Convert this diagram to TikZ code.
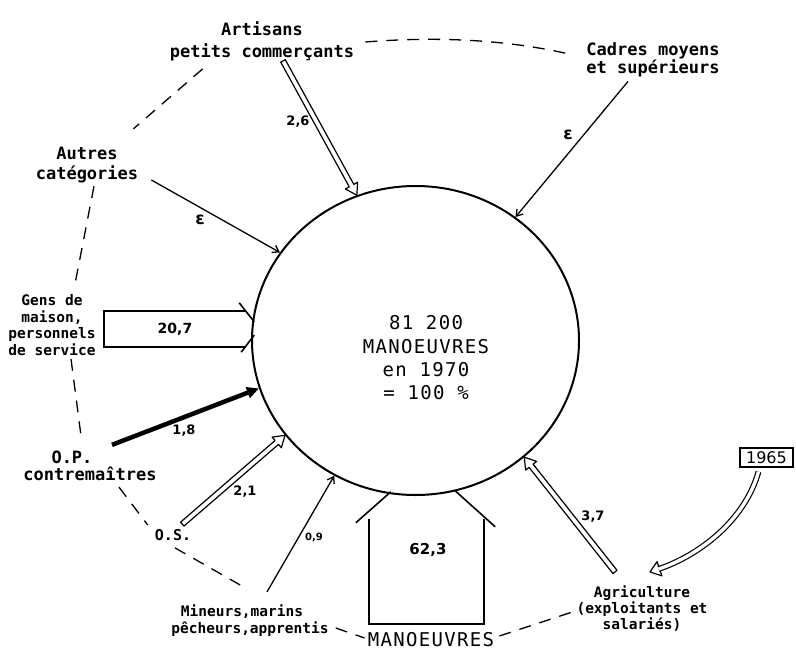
\documentclass[tikz,border=0pt]{standalone}
\usepackage{fontspec}
\usetikzlibrary{arrows.meta,calc,shapes.geometric}
\newfontfamily\labfont{DejaVu Sans Mono}
\newfontfamily\ctrfont[LetterSpace=7]{DejaVu Sans Mono}
\newfontfamily\numfont{DejaVu Sans}
\tikzset{
  big/.style={font=\labfont\bfseries\fontsize{17}{20}\selectfont, align=center, inner sep=1pt},
  small/.style={font=\labfont\bfseries\fontsize{14.5}{16.7}\selectfont, align=center, inner sep=1pt},
  num/.style={font=\numfont\bfseries\fontsize{13}{15}\selectfont, inner sep=0pt},
  eps/.style={font=\numfont\bfseries\fontsize{17}{19}\selectfont, inner sep=0pt},
  ctr/.style={font=\ctrfont\fontsize{19}{23.3}\selectfont, align=center, inner sep=1pt},
  thinarr/.style={line width=1.3pt, -{Straight Barb[length=6pt,width=8pt]}},
  hollow/.style={line width=1.2pt, line join=round},
  blockline/.style={line width=1.6pt},
  dl/.style={line width=1.3pt, dash pattern=on 12pt off 9pt},
}
\newcommand\hollowarr[2]{%
  \path ($(#2)!11pt!(#1)$) coordinate (hb);
  \draw[hollow] ($(#1)!2.6pt!90:(#2)$) -- ($(hb)!2.6pt!90:(#2)$) -- ($(hb)!7pt!90:(#2)$) -- (#2)
    -- ($(hb)!7pt!-90:(#2)$) -- ($(hb)!2.6pt!-90:(#2)$) -- ($(#1)!2.6pt!-90:(#2)$) -- cycle;}
\begin{document}
\begin{tikzpicture}[x=1pt,y=-1pt]
\useasboundingbox (0,0) rectangle (796,664);
\fill[white] (0,0) rectangle (796,664);

% central circle
\node[draw, ellipse, line width=2pt, minimum width=327pt, minimum height=309pt, inner sep=0pt] (c) at (415.5,340.5) {};
\node[ctr] (ctrtext) at (426,358) {81 200\\MANOEUVRES\\en 1970\\= 100 \%};

% labels
\node[big, font=\labfont\bfseries\fontsize{17}{22}\selectfont] (art) at (262,41) {Artisans\\petits commerçants};
\node[big, font=\labfont\bfseries\fontsize{17}{18}\selectfont] (cad) at (653,60) {Cadres moyens\\et supérieurs};
\node[big] (aut) at (87,165) {Autres\\catégories};
\node[small] (gens) at (52,325) {Gens de\\maison,\\personnels\\de service};
\node[big, font=\labfont\bfseries\fontsize{17}{17}\selectfont] (op) at (90,466) {O.P.\hspace*{36pt}\\contremaîtres};
\node[big, font=\labfont\bfseries\fontsize{15}{17}\selectfont] (os) at (173,535) {O.S.};
\node[small, font=\labfont\bfseries\fontsize{14.5}{17}\selectfont] (min) at (250,621) {Mineurs,marins\hspace*{16pt}\\pêcheurs,apprentis};
\node[small, font=\labfont\bfseries\fontsize{14.5}{16}\selectfont] (agr) at (642,609) {Agriculture\\(exploitants et\\salariés)};
\node[ctr] (mlab) at (431,640) {MANOEUVRES};
\node[draw, line width=1.3pt, minimum width=53pt, minimum height=19pt, inner sep=0pt, font=\numfont\fontsize{16}{18}\selectfont] (yr) at (766.5,457.5) {1965};

% numbers
\node[num] (n26) at (298,122) {2,6};
\node[eps] (e1) at (568,135) {ε};
\node[eps] (e2) at (200,220) {ε};
\node[num] (n18) at (184,431) {1,8};
\node[num] (n21) at (245,492) {2,1};
\node[num, font=\numfont\bfseries\fontsize{10}{12}\selectfont] (n09) at (314,537) {0,9};
\node[num] (n37) at (593,517) {3,7};
\node[num, font=\numfont\bfseries\fontsize{14}{16}\selectfont, minimum width=142pt, minimum height=36pt] (b207) at (175,329) {20,7};
\node[minimum width=115pt, minimum height=105pt, inner sep=0pt] (mbox) at (426.5,571.5) {};
\node[num, font=\numfont\bfseries\fontsize{15}{17}\selectfont] (n623) at (428,550) {62,3};

% arrow start coordinates
\coordinate (artS) at ($(art.south)+(21,-1)$);
\coordinate (cadS) at ($(cad.south)+(-25,3)$);
\coordinate (autS) at ($(aut.east)+(12,15)$);
\coordinate (opS) at ($(op.north)+(22,-5)$);
\coordinate (osS) at ($(os.north east)+(-10,-4)$);
\coordinate (minS) at ($(min.north)+(17,-12)$);
\coordinate (agrS) at ($(agr.north)+(-27,-13)$);
\coordinate (yrS) at ($(yr.south)+(-8,4)$);
\coordinate (agrT) at ($(agr.north)+(8,-13)$);
\coordinate (k1) at (745,520);
\coordinate (k2) at (700,555);

% arrows into circle
\hollowarr{artS}{c.112.9}
\draw[thinarr] (cadS) -- (c.51.6);
\draw[thinarr] (autS) -- (c.147.5);
\draw[line width=4.5pt, -{Triangle[length=12pt,width=11pt]}] (opS) -- (c.197.6);
\hollowarr{osS}{c.216.7}
\draw[thinarr] (minS) -- (c.239.1);
\hollowarr{agrS}{c.313.4}

% 20,7 block arrow
\draw[blockline] (b207.north east) -- (b207.north west) -- (b207.south west) -- (b207.south east);
\draw[blockline] ($(b207.north east)+(-7,-8)$) -- ($(b207.north east)+(8,11)$);
\draw[blockline] ($(b207.south east)+(-5,5)$) -- ($(b207.south east)+(8,-12)$);

% 62,3 block arrow
\draw[blockline] (mbox.north west) -- (mbox.south west) -- (mbox.south east) -- (mbox.north east);
\draw[blockline] ($(mbox.north west)+(-13,4)$) -- ($(mbox.north west)+(22,-27)$);
\draw[blockline] ($(mbox.north east)+(-29,-28)$) -- ($(mbox.north east)+(11,8)$);

% curved arrow from 1965
\draw[line width=1.2pt, double distance=3.4pt, shorten >=9pt] (yrS) .. controls (k1) and (k2) .. (agrT);
\path ($(agrT)!10pt!(k2)$) coordinate (hc);
\draw[hollow] ($(hc)!2.3pt!90:(agrT)$) -- ($(hc)!7.5pt!90:(agrT)$) -- (agrT) -- ($(hc)!7.5pt!-90:(agrT)$) -- ($(hc)!2.3pt!-90:(agrT)$);

% dashed outline
\draw[dl] ($(art.east)+(10,1)$) .. controls (440,36) and (510,40) .. ($(cad.west)+(-12,-5)$);
\draw[dl] ($(art.south west)+(34,7)$) -- ($(aut.north east)+(-6,-17)$);
\draw[dl] ($(aut.south)+(7,2)$) -- ($(gens.north)+(22,-4)$);
\draw[dl] ($(gens.south)+(19,2)$) -- ($(op.north)+(-9,-14)$);
\draw[dl] ($(op.south)+(29,5)$) -- ($(os.west)+(-6,-10)$);
\draw[dl] ($(os.south)+(2,6)$) -- ($(min.north)+(-3,-15)$);
\draw[dl] ($(min.east)+(6,7)$) -- ($(mlab.west)+(-2,-2)$);
\draw[dl] ($(mlab.east)+(4,-4)$) -- ($(agr.west)+(-3,3)$);
\end{tikzpicture}
\end{document}
